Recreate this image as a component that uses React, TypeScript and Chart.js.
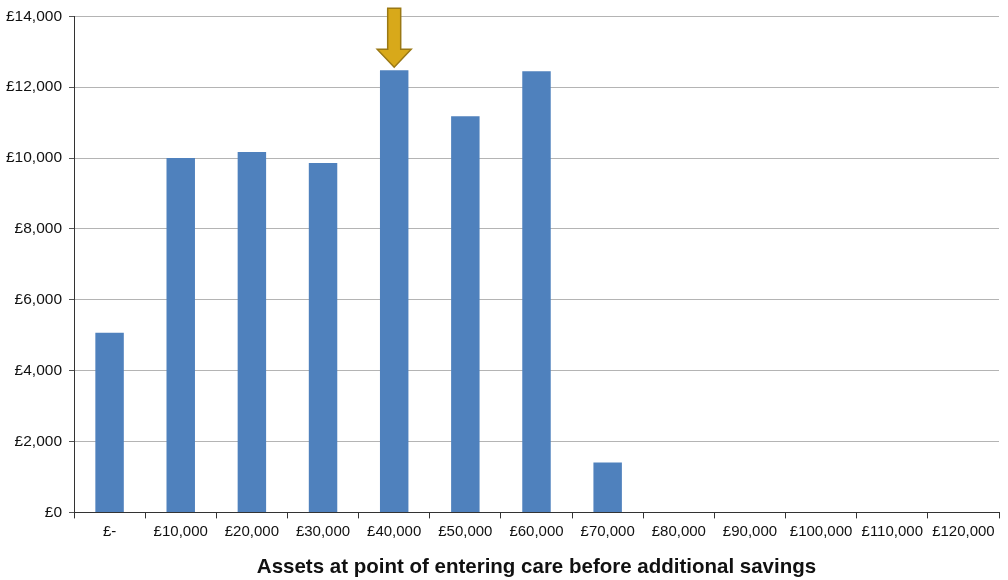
import React, { useEffect, useRef } from "react";
import { Chart, registerables } from "chart.js";

Chart.register(...registerables);

const categories = ["£-", "£10,000", "£20,000", "£30,000", "£40,000", "£50,000", "£60,000", "£70,000", "£80,000", "£90,000", "£100,000", "£110,000", "£120,000"];
const values = [5070, 10000, 10170, 9860, 12480, 11180, 12450, 1410, 0, 0, 0, 0, 0];
const arrowIndex = 4;
const yMin = 0;
const yMax = 14000;
const yStep = 2000;
const xTitle = "Assets at point of entering care before additional savings";

const FONT = "'Liberation Sans', Arial, Helvetica, sans-serif";

const arrowPlugin = {
  id: "arrowMarker",
  afterDatasetsDraw(chart: any) {
    const { ctx, scales } = chart;
    const x = scales.x.getPixelForValue(arrowIndex);
    const tip = scales.y.getPixelForValue(values[arrowIndex]) - 3;
    const top = chart.chartArea.top - 8;
    const shaftHalf = 6.5;
    const headHalf = 17;
    const headLen = 18;
    ctx.save();
    ctx.beginPath();
    ctx.moveTo(x - shaftHalf, top);
    ctx.lineTo(x + shaftHalf, top);
    ctx.lineTo(x + shaftHalf, tip - headLen);
    ctx.lineTo(x + headHalf, tip - headLen);
    ctx.lineTo(x, tip);
    ctx.lineTo(x - headHalf, tip - headLen);
    ctx.lineTo(x - shaftHalf, tip - headLen);
    ctx.closePath();
    ctx.fillStyle = "#D8A91A";
    ctx.fill();
    ctx.lineWidth = 1.5;
    ctx.strokeStyle = "#9A7814";
    ctx.stroke();
    ctx.restore();
  },
};

export default function App() {
  const ref = useRef<HTMLCanvasElement>(null);
  useEffect(() => {
    if (!ref.current) return;
    const chart = new Chart(ref.current, {
      type: "bar",
      data: {
        labels: categories,
        datasets: [
          {
            data: values,
            backgroundColor: "#4F81BD",
            borderWidth: 0,
            categoryPercentage: 1,
            barPercentage: 0.4,
          },
        ],
      },
      options: {
        responsive: false,
        animation: false,
        devicePixelRatio: 1,
        layout: { padding: { top: 4, right: 9, left: 0, bottom: 0 } },
        plugins: {
          legend: { display: false },
          tooltip: { enabled: false },
        },
        scales: {
          x: {
            grid: {
              offset: true,
              drawOnChartArea: false,
              drawTicks: true,
              tickLength: 6,
              color: "#333333",
            },
            border: { color: "#333333", width: 1 },
            ticks: {
              color: "#111111",
              font: { family: FONT, size: 15 },
              padding: 4,
              maxRotation: 0,
              autoSkip: false,
            },
            title: {
              display: true,
              text: xTitle,
              color: "#111111",
              font: { family: FONT, size: 20.5, weight: "bold" },
              padding: { top: 11, bottom: 0 },
            },
          },
          y: {
            min: yMin,
            max: yMax,
            afterFit(scale: any) {
              scale.width = 74;
            },
            grid: {
              color: "#B4B4B4",
              lineWidth: 1,
              tickLength: 5,
              tickColor: "#555555",
            },
            border: { color: "#333333", width: 1 },
            ticks: {
              stepSize: yStep,
              color: "#111111",
              font: { family: FONT, size: 15.5 },
              padding: 7,
              callback: (v: any) => "£" + Number(v).toLocaleString("en-GB"),
            },
          },
        },
      },
      plugins: [arrowPlugin],
    });
    return () => chart.destroy();
  }, []);
  return (
    <div style={{ position: "absolute", left: 0, top: 0, width: 1008, height: 580, background: "#fff" }}>
      <canvas ref={ref} width={1008} height={580} />
    </div>
  );
}
